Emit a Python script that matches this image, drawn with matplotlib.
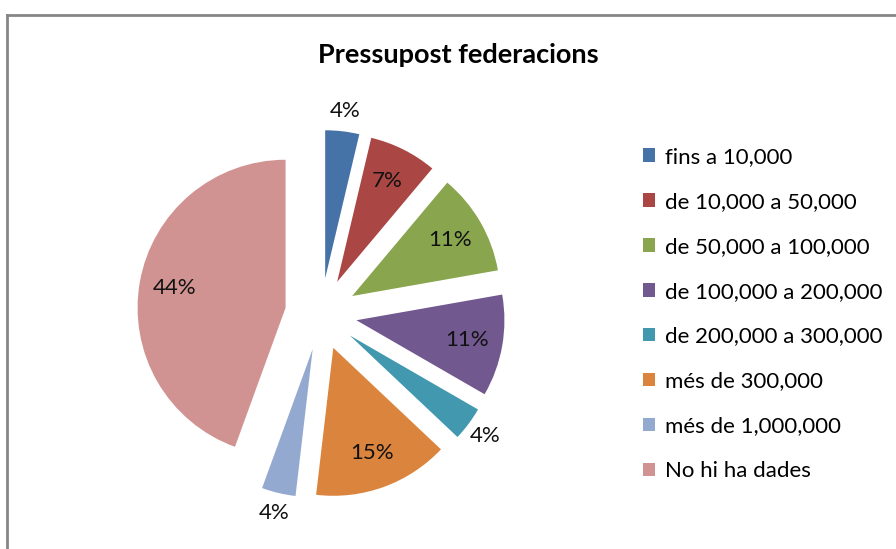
import numpy as np
import matplotlib.pyplot as plt
from matplotlib.lines import Line2D

# 데이터
categories = ['fins a 10,000', 'de 10,000 a 50,000', 'de 50,000 a 100,000',
              'de 100,000 a 200,000', 'de 200,000 a 300,000', 'més de 300,000',
              'més de 1,000,000', 'No hi ha dades']
counts = [1, 2, 3, 3, 1, 4, 1, 12]
colors = ['#4572A7', '#AA4643', '#89A54E', '#71588F',
          '#4198AF', '#DB843D', '#93A9CF', '#D19392']

plt.rcParams['font.family'] = ['Lato', 'DejaVu Sans']

W, H = 896, 549
fig = plt.figure(figsize=(W / 100, H / 100), dpi=100)

# 차트 테두리 (위쪽, 왼쪽)
fig.add_artist(Line2D([7 / W, 1], [1 - 14.5 / H, 1 - 14.5 / H], color='#868686', lw=2))
fig.add_artist(Line2D([7 / W, 7 / W], [0, 1 - 14.5 / H], color='#868686', lw=2))

# 파이 차트 축: 중심 (321, 314) px, 반지름 148 px
R, cx, cy, lim = 148, 321, 314, 1.6
side = 2 * lim * R
ax = fig.add_axes([(cx - side / 2) / W, (H - cy - side / 2) / H, side / W, side / H])

expl = 0.243
wedges, _ = ax.pie(counts, colors=colors, startangle=90, counterclock=False,
                   explode=[expl] * len(counts), radius=1,
                   wedgeprops=dict(linewidth=0))
ax.set_xlim(-lim, lim)
ax.set_ylim(-lim, lim)
ax.set_aspect('equal')
ax.axis('off')

# 퍼센트 라벨: 큰 조각은 안쪽, 작은 조각은 바깥쪽
total = sum(counts)
for w, c in zip(wedges, counts):
    pct = c / total
    theta = np.deg2rad((w.theta1 + w.theta2) / 2)
    r = expl + (1.14 if pct < 0.05 else 0.76)
    ax.text(r * np.cos(theta), r * np.sin(theta), f'{pct * 100:.0f}%',
            ha='center', va='center', fontsize=16, color='#111111')

fig.text(458 / W, 1 - 55 / H, 'Pressupost federacions', ha='center', va='center',
         fontsize=19.5, fontweight='bold')

fig.legend(wedges, categories, loc='upper left',
           bbox_to_anchor=(643 / W, 1 - 147 / H), frameon=False,
           fontsize=16, handlelength=0.55, handleheight=0.55,
           handletextpad=0.42, labelspacing=1.12, borderpad=0, borderaxespad=0)

fig.savefig('out.png', dpi=100)
